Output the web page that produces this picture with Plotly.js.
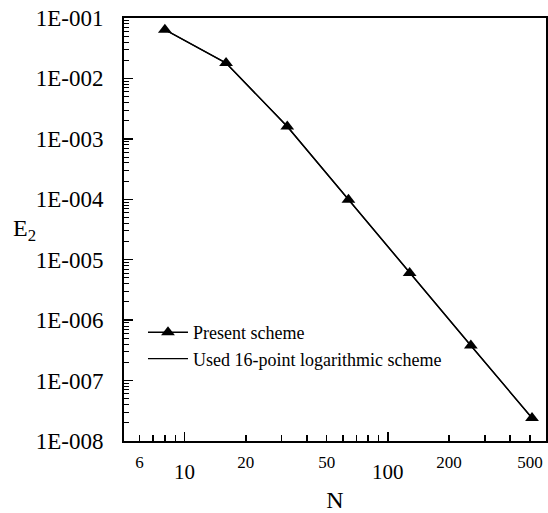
<!DOCTYPE html>
<html>
<head>
<meta charset="utf-8">
<script src="https://cdn.plot.ly/plotly-3.0.1.min.js"></script>
<style>html,body{margin:0;padding:0;background:#fff;}#chart{width:548px;height:513px;}</style>
</head>
<body>
<div id="chart"></div>
<script>
// Data
const N = [8, 16, 32, 64, 128, 256, 512];
const E2 = [6.4e-2, 1.8e-2, 1.6e-3, 9.8e-5, 6.0e-6, 3.8e-7, 2.4e-8];
const seriesNames = ["Present scheme", "Used 16-point logarithmic scheme"];
const yTickVals = [1e-1, 1e-2, 1e-3, 1e-4, 1e-5, 1e-6, 1e-7, 1e-8];
const yTickText = ["1E-001", "1E-002", "1E-003", "1E-004", "1E-005", "1E-006", "1E-007", "1E-008"];
const xMajorVals = [10, 100];
const xMajorText = ["10", "100"];
const xMinorLabelVals = [6, 20, 50, 200, 500];
const xMinorLabelText = ["6", "20", "50", "200", "500"];

const FONT = "'Liberation Serif', 'Times New Roman', Times, serif";
const xr = [0.702, 2.778];
const yr = [-8, -1];

// minor tick positions
const xMinor = [];
for (const d of [1, 10, 100]) for (let k = 2; k <= 9; k++) { const v = k * d; if (v >= 5.1 && v <= 590) xMinor.push(v); }
const yMinor = [];
for (let e = -8; e < -1; e++) for (let k = 2; k <= 9; k++) yMinor.push(k * Math.pow(10, e));

const traces = [
  {x: N, y: E2, name: seriesNames[0], type: "scatter", mode: "lines+markers",
   line: {color: "#000", width: 1.5}, marker: {symbol: "triangle-up", size: 12, color: "#000"}, xaxis: "x", yaxis: "y"},
  {x: N, y: E2, name: seriesNames[1], type: "scatter", mode: "lines",
   line: {color: "#000", width: 1.2}, xaxis: "x2", yaxis: "y"}
];

const layout = {
  width: 548, height: 513,
  margin: {l: 124, r: 2, t: 18, b: 72},
  paper_bgcolor: "#fff", plot_bgcolor: "#fff",
  font: {family: FONT, color: "#000", size: 18},
  showlegend: true,
  legend: {x: 0.045, y: 0.30, xanchor: "left", yanchor: "top", bgcolor: "rgba(0,0,0,0)",
           font: {family: FONT, size: 18, color: "#000"}, tracegroupgap: 0, itemwidth: 40},
  xaxis: {type: "log", range: xr, showgrid: false, zeroline: false,
          showline: true, linecolor: "#000", linewidth: 2, mirror: true,
          ticks: "inside", ticklen: 9, tickwidth: 1.5, tickcolor: "#000",
          tickmode: "array", tickvals: xMajorVals, ticktext: xMajorText,
          tickfont: {family: FONT, size: 21, color: "#000"}, ticklabelstandoff: 11,
          minor: {ticks: "inside", ticklen: 6, tickwidth: 1.5, tickcolor: "#000", tickmode: "array", tickvals: xMinor, showgrid: false},
          title: {text: "N", font: {family: FONT, size: 24, color: "#000"}, standoff: 24}},
  xaxis2: {type: "log", range: xr, overlaying: "x", anchor: "y", side: "bottom",
           showgrid: false, zeroline: false, showline: false, ticks: "",
           tickmode: "array", tickvals: xMinorLabelVals, ticktext: xMinorLabelText,
           tickfont: {family: FONT, size: 17, color: "#000"}, ticklabelstandoff: 9},
  yaxis: {type: "log", range: yr, showgrid: false, zeroline: false,
          showline: true, linecolor: "#000", linewidth: 2, mirror: true,
          ticks: "inside", ticklen: 9, tickwidth: 1.5, tickcolor: "#000",
          tickmode: "array", tickvals: yTickVals, ticktext: yTickText,
          tickfont: {family: FONT, size: 23, color: "#000"}, ticklabelstandoff: 14,
          minor: {ticks: "inside", ticklen: 5, tickwidth: 1, tickcolor: "#000", tickmode: "array", tickvals: yMinor, showgrid: false}},
  annotations: [
    {text: "E<sub>2</sub>", xref: "paper", yref: "paper", x: -0.235, y: 0.5, xanchor: "center", yanchor: "middle",
     showarrow: false, font: {family: FONT, size: 24, color: "#000"}}
  ]
};

Plotly.newPlot("chart", traces, layout, {displayModeBar: false, staticPlot: true});
</script>
</body>
</html>
